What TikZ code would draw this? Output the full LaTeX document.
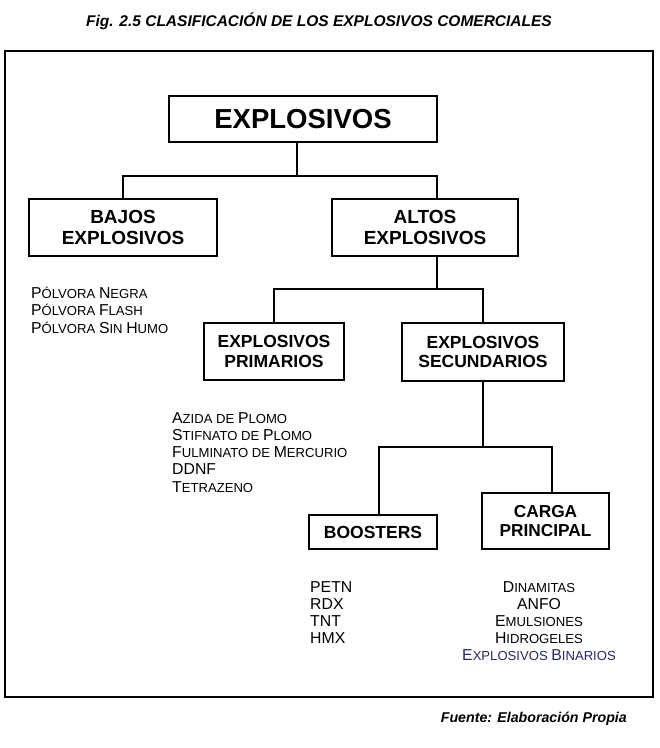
\documentclass[tikz,border=0pt]{standalone}
\usepackage{fontspec}
\setmainfont{Liberation Sans}
\definecolor{navytxt}{RGB}{40,40,100}
\newcommand\SCx[2]{{\fontsize{15.8}{17}\selectfont #1}{\fontsize{13.1}{17}\selectfont #2}}
\begin{document}
\begin{tikzpicture}[x=1pt,y=-1pt,
  box/.style={draw=black, line width=1.4pt, inner sep=0pt, align=center, font=\bfseries},
  lvlA/.style={box, font=\fontsize{19}{21}\selectfont\bfseries},
  lvlB/.style={box, font=\fontsize{17.5}{19.5}\selectfont\bfseries},
  conn/.style={line width=1.4pt, line join=miter},
  item/.style={inner sep=0pt, font=\fontsize{13.1}{17}\selectfont},
  itemL/.style={item, anchor=base west},
  itemC/.style={item, anchor=base}]
\useasboundingbox (0,0) rectangle (660,748);
\fill[white] (0,0) rectangle (660,748);

% title and source
\node[anchor=base, inner sep=0pt, font=\fontsize{15.5}{18}\selectfont\bfseries\itshape] (title) at (319,26)
  {Fig. 2.5 CLASIFICACIÓN DE LOS EXPLOSIVOS COMERCIALES};
\node[anchor=base east, inner sep=0pt, font=\fontsize{14.2}{17}\selectfont\bfseries\itshape] (src) at (627,722)
  {Fuente: Elaboración Propia};

% frame
\draw[line width=1.4pt] (5,51) rectangle (653,697);

% boxes
\node[box, minimum width=268pt, minimum height=46pt, font=\fontsize{27.5}{30}\selectfont\bfseries] (top) at (303,119) {EXPLOSIVOS};
\node[lvlA, minimum width=188pt, minimum height=57pt] (bajos) at (123,227.5) {BAJOS\\EXPLOSIVOS};
\node[lvlA, minimum width=186pt, minimum height=57pt] (altos) at (425,227.5) {ALTOS\\EXPLOSIVOS};
\node[lvlB, minimum width=140pt, minimum height=57pt] (prim) at (274,351.5) {EXPLOSIVOS\\PRIMARIOS};
\node[lvlB, minimum width=162pt, minimum height=58pt] (sec) at (483,352) {EXPLOSIVOS\\SECUNDARIOS};
\node[lvlB, minimum width=128pt, minimum height=34pt] (boost) at (373,532) {BOOSTERS};
\node[lvlB, minimum width=127pt, minimum height=56pt, font=\fontsize{17.3}{19}\selectfont\bfseries] (carga) at (545.5,521) {CARGA\\PRINCIPAL};

% connectors
\coordinate (j1) at (297,176);
\coordinate (j2) at (437,289);
\coordinate (j3) at (483,447);
\draw[conn] (top.south -| j1) -- (j1);
\draw[conn] (bajos.north) |- (j1) -| ([xshift=12pt]altos.north);
\draw[conn] ([xshift=12pt]altos.south) -- (j2);
\draw[conn] (prim.north) |- (j2) -| (sec.north);
\draw[conn] (sec.south) -- (j3);
\draw[conn] ([xshift=6pt]boost.north) |- (j3) -| ([xshift=6.5pt]carga.north);

% lists
\node[itemL] (p1) at (31,298) {\SCx{P}{ÓLVORA} \SCx{N}{EGRA}};
\node[itemL] (p2) at (31,315.5) {\SCx{P}{ÓLVORA} \SCx{F}{LASH}};
\node[itemL] (p3) at (31,333) {\SCx{P}{ÓLVORA} \SCx{S}{IN} \SCx{H}{UMO}};

\node[itemL] (a1) at (172,423) {\SCx{A}{ZIDA DE} \SCx{P}{LOMO}};
\node[itemL] (a2) at (172,440.3) {\SCx{S}{TIFNATO DE} \SCx{P}{LOMO}};
\node[itemL] (a3) at (172,457.6) {\SCx{F}{ULMINATO DE} \SCx{M}{ERCURIO}};
\node[itemL] (a4) at (172,474.9) {\SCx{DDNF}{}};
\node[itemL] (a5) at (172,492.2) {\SCx{T}{ETRAZENO}};

\node[itemL] (b1) at (310,592) {\SCx{PETN}{}};
\node[itemL] (b2) at (310,609) {\SCx{RDX}{}};
\node[itemL] (b3) at (310,626) {\SCx{TNT}{}};
\node[itemL] (b4) at (310,643) {\SCx{HMX}{}};

\node[itemC] (c1) at (539,592) {\SCx{D}{INAMITAS}};
\node[itemC] (c2) at (539,609) {\SCx{ANFO}{}};
\node[itemC] (c3) at (539,626) {\SCx{E}{MULSIONES}};
\node[itemC] (c4) at (539,643) {\SCx{H}{IDROGELES}};
\node[itemC, text=navytxt] (c5) at (539,660) {\SCx{E}{XPLOSIVOS} \SCx{B}{INARIOS}};
\end{tikzpicture}
\end{document}
